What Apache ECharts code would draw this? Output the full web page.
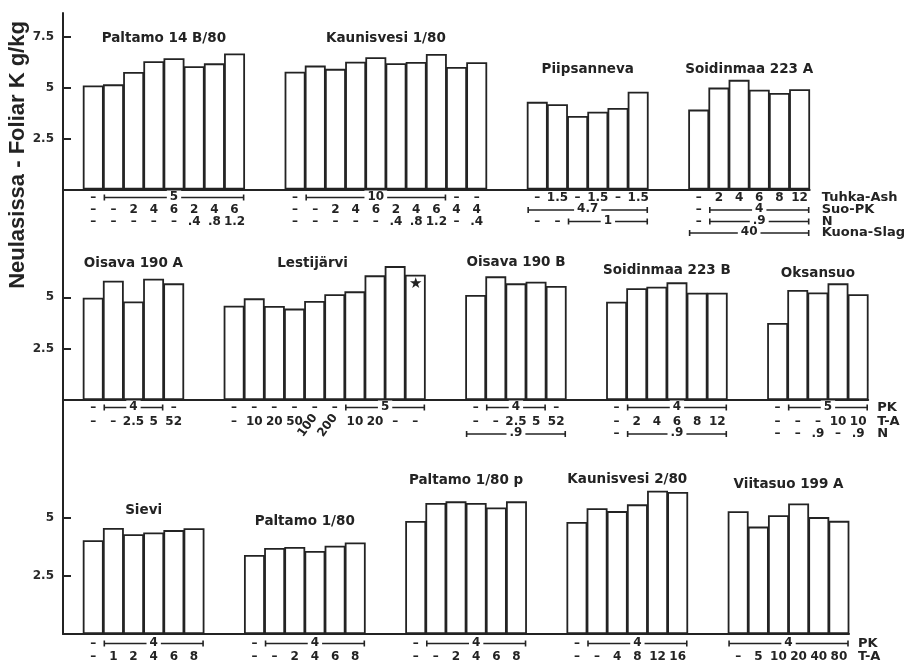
<!DOCTYPE html>
<html>
<head>
<meta charset="utf-8">
<script src="https://cdn.jsdelivr.net/npm/echarts@6/dist/echarts.min.js"></script>
<style>
  html, body { margin: 0; padding: 0; background: #fff; }
  #chart { width: 909px; height: 662px; }
</style>
</head>
<body>
<div id="chart"></div>
<script>
// Foliar potassium (g/kg) by site and fertiliser treatment, three rows of trials.

// ---- Row 1 ----
const paltamo14B   = [5.10, 5.16, 5.77, 6.29, 6.44, 6.05, 6.19, 6.67];
const kaunisvesi1  = [5.78, 6.08, 5.92, 6.27, 6.49, 6.20, 6.26, 6.65, 6.01, 6.24];
const piipsanneva  = [4.30, 4.18, 3.61, 3.82, 4.00, 4.80];
const soidinmaaA   = [3.92, 5.00, 5.38, 4.90, 4.74, 4.92];

// ---- Row 2 ----
const oisavaA      = [4.98, 5.81, 4.80, 5.91, 5.68];
const lestijarvi   = [4.59, 4.95, 4.58, 4.45, 4.82, 5.15, 5.29, 6.07, 6.52, 6.10];
const oisavaB      = [5.11, 6.02, 5.68, 5.76, 5.55];
const soidinmaaB   = [4.79, 5.44, 5.52, 5.73, 5.22, 5.22];
const oksansuo     = [3.75, 5.36, 5.24, 5.68, 5.15];

// ---- Row 3 ----
const sievi        = [4.04, 4.57, 4.30, 4.38, 4.48, 4.56];
const paltamo1     = [3.41, 3.71, 3.75, 3.58, 3.81, 3.95];
const paltamo1p    = [4.87, 5.65, 5.72, 5.65, 5.46, 5.72];
const kaunisvesi2  = [4.83, 5.42, 5.30, 5.59, 6.18, 6.12];
const viitasuo     = [5.29, 4.63, 5.12, 5.63, 5.04, 4.88];

// Site names
const row1Sites = ['Paltamo 14 B/80', 'Kaunisvesi 1/80', 'Piipsanneva', 'Soidinmaa 223 A'];
const row2Sites = ['Oisava 190 A', 'Lestijärvi', 'Oisava 190 B', 'Soidinmaa 223 B', 'Oksansuo'];
const row3Sites = ['Sievi', 'Paltamo 1/80', 'Paltamo 1/80 p', 'Kaunisvesi 2/80', 'Viitasuo 199 A'];

// Treatment rows printed under each axis (names on the right)
const row1Treatments = ['Tuhka-Ash', 'Suo-PK', 'N', 'Kuona-Slag'];
const row2Treatments = ['PK', 'T-A', 'N'];
const row3Treatments = ['PK', 'T-A'];

// Y tick labels
const row1Ticks = [2.5, 5, 7.5];
const row2Ticks = [2.5, 5];
const row3Ticks = [2.5, 5];

// Treatment doses per bar; {span, text} is a bracket covering several bars,
// {tilt} is a slanted label.
const D = '–';
const paltamo14BDoses = [
  [D, { span: 7, text: '5' }],
  [D, D, '2', '4', '6', '2', '4', '6'],
  [D, D, D, D, D, '.4', '.8', '1.2']
];
const kaunisvesi1Doses = [
  [D, { span: 7, text: '10' }, D, D],
  [D, D, '2', '4', '6', '2', '4', '6', '4', '4'],
  [D, D, D, D, D, '.4', '.8', '1.2', D, '.4']
];
const piipsannevaDoses = [
  [D, '1.5', D, '1.5', D, '1.5'],
  [{ span: 6, text: '4.7' }],
  [D, D, { span: 4, text: '1' }]
];
const soidinmaaADoses = [
  [D, '2', '4', '6', '8', '12'],
  [D, { span: 5, text: '4' }],
  [D, { span: 5, text: '.9' }],
  [{ span: 6, text: '40' }]
];
const oisavaADoses = [
  [D, { span: 3, text: '4' }, D],
  [D, D, '2.5', '5', '52']
];
const lestijarviDoses = [
  [D, D, D, D, D, D, { span: 4, text: '5' }],
  [D, '10', '20', '50', { tilt: '100' }, { tilt: '200' }, '10', '20', D, D]
];
const oisavaBDoses = [
  [D, { span: 3, text: '4' }, D],
  [D, D, '2.5', '5', '52'],
  [{ span: 5, text: '.9' }]
];
const soidinmaaBDoses = [
  [D, { span: 5, text: '4' }],
  [D, '2', '4', '6', '8', '12'],
  [D, { span: 5, text: '.9' }]
];
const oksansuoDoses = [
  [D, { span: 4, text: '5' }],
  [D, D, D, '10', '10'],
  [D, D, '.9', D, '.9']
];
const sieviDoses       = [[D, { span: 5, text: '4' }], [D, '1', '2', '4', '6', '8']];
const paltamo1Doses    = [[D, { span: 5, text: '4' }], [D, D, '2', '4', '6', '8']];
const paltamo1pDoses   = [[D, { span: 5, text: '4' }], [D, D, '2', '4', '6', '8']];
const kaunisvesi2Doses = [[D, { span: 5, text: '4' }], [D, D, '4', '8', '12', '16']];
const viitasuoDoses    = [[{ span: 6, text: '4' }], [D, '5', '10', '20', '40', '80']];

// ---------------- layout ----------------
const INK = '#232323';
const FONT = 'DejaVu Sans';

const panels = [
  {
    grid: { left: 63, top: 13, width: 746.7, height: 176.5 }, slots: 37, max: 8.66,
    ticks: row1Ticks, treatments: row1Treatments, rowOffsets: [8, 20.5, 32, 43.5], labelGap: 12,
    groups: [
      { name: row1Sites[0], values: paltamo14B,  doses: paltamo14BDoses,  start: 1,  titleAt: 7.39 },
      { name: row1Sites[1], values: kaunisvesi1, doses: kaunisvesi1Doses, start: 11, titleAt: 7.39 },
      { name: row1Sites[2], values: piipsanneva, doses: piipsannevaDoses, start: 23, titleAt: 5.90 },
      { name: row1Sites[3], values: soidinmaaA,  doses: soidinmaaADoses,  start: 31, titleAt: 5.90 }
    ]
  },
  {
    grid: { left: 63, top: 189.5, width: 805.2, height: 210.5 }, slots: 40, max: 10.25,
    ticks: row2Ticks, treatments: row2Treatments, rowOffsets: [7.5, 21.5, 34], labelGap: 9,
    groups: [
      { name: row2Sites[0], values: oisavaA,    doses: oisavaADoses,    start: 1,  titleAt: 6.66 },
      { name: row2Sites[1], values: lestijarvi, doses: lestijarviDoses, start: 8,  titleAt: 6.66, shift: -0.6, starAt: 9 },
      { name: row2Sites[2], values: oisavaB,    doses: oisavaBDoses,    start: 20, titleAt: 6.70 },
      { name: row2Sites[3], values: soidinmaaB, doses: soidinmaaBDoses, start: 27, titleAt: 6.33 },
      { name: row2Sites[4], values: oksansuo,   doses: oksansuoDoses,   start: 35, titleAt: 6.17 }
    ]
  },
  {
    grid: { left: 63, top: 400, width: 786, height: 234 }, slots: 39, max: 10.09,
    ticks: row3Ticks, treatments: row3Treatments, rowOffsets: [9.5, 23], labelGap: 9,
    groups: [
      { name: row3Sites[0], values: sievi,       doses: sieviDoses,       start: 1,  titleAt: 5.31 },
      { name: row3Sites[1], values: paltamo1,    doses: paltamo1Doses,    start: 9,  titleAt: 4.87 },
      { name: row3Sites[2], values: paltamo1p,   doses: paltamo1pDoses,   start: 17, titleAt: 6.64 },
      { name: row3Sites[3], values: kaunisvesi2, doses: kaunisvesi2Doses, start: 25, titleAt: 6.67 },
      { name: row3Sites[4], values: viitasuo,    doses: viitasuoDoses,    start: 33, titleAt: 6.45 }
    ]
  }
];

const chart = echarts.init(document.getElementById('chart'), null, { renderer: 'canvas' });

const grids = [], xAxes = [], yAxes = [], series = [];
panels.forEach((p, i) => {
  grids.push(Object.assign({ containLabel: false }, p.grid));
  const cats = Array.from({ length: p.slots }, (_, k) => String(k));
  xAxes.push({
    type: 'category', gridIndex: i, data: cats, boundaryGap: true,
    axisLine: { show: true, onZero: false, lineStyle: { color: INK, width: 2 } },
    axisTick: { show: false }, axisLabel: { show: false }, splitLine: { show: false }
  });
  yAxes.push({
    type: 'value', gridIndex: i, min: 0, max: p.max,
    axisLine: { show: true, lineStyle: { color: INK, width: 2 } },
    axisTick: { show: true, inside: true, length: 8, customValues: p.ticks, lineStyle: { color: INK, width: 2 } },
    axisLabel: {
      show: true, customValues: p.ticks, margin: 9,
      color: '#2a2a2a', fontFamily: FONT, fontWeight: 'bold', fontSize: 12,
      formatter: v => String(v)
    },
    splitLine: { show: false }
  });
  const data = new Array(p.slots).fill(null);
  p.groups.forEach(g => {
    g.values.forEach((v, k) => {
      if (g.starAt === k) {
        data[g.start + k] = {
          value: v,
          label: { show: true, position: 'insideTop', distance: 2, formatter: '★', fontSize: 15, color: INK }
        };
      } else {
        data[g.start + k] = v;
      }
    });
  });
  series.push({
    type: 'bar', xAxisIndex: i, yAxisIndex: i, data: data,
    barWidth: '104%', silent: true, animation: false,
    itemStyle: { color: '#ffffff', borderColor: INK, borderWidth: 1.8 }
  });
});

chart.setOption({
  animation: false,
  backgroundColor: '#ffffff',
  grid: grids, xAxis: xAxes, yAxis: yAxes, series: series
});

// ---- texts and treatment brackets placed through the axes ----
const graphics = [];
const txt = (text, x, y, size, extra) => Object.assign({
  type: 'text', silent: true, z: 10,
  style: Object.assign({
    text: text, x: x, y: y, align: 'center', verticalAlign: 'middle',
    fill: INK, fontFamily: FONT, fontWeight: 'bold', fontSize: size
  }, extra || {})
});
const seg = (x1, y1, x2, y2, w) => ({
  type: 'line', silent: true, z: 5,
  shape: { x1: x1, y1: y1, x2: x2, y2: y2 },
  style: { stroke: INK, lineWidth: w || 1.6 }
});

panels.forEach((p, i) => {
  const cx = k => chart.convertToPixel({ xAxisIndex: i }, k);
  const bw = cx(1) - cx(0);
  const base = chart.convertToPixel({ yAxisIndex: i }, 0);

  p.groups.forEach(g => {
    const n = g.values.length;
    const left = cx(g.start) - bw / 2;
    const right = cx(g.start + n - 1) + bw / 2;
    const ty = chart.convertToPixel({ yAxisIndex: i }, g.titleAt);
    graphics.push(txt(g.name, (left + right) / 2 + (g.shift || 0) * bw, ty, 13.5));

    g.doses.forEach((row, r) => {
      const y = base + p.rowOffsets[r];
      let k = 0;
      row.forEach(item => {
        if (typeof item === 'string') {
          graphics.push(txt(item, cx(g.start + k), y, 12));
          k += 1;
        } else if (item.span) {
          const a = cx(g.start + k) - bw / 2 + 1;
          const b = cx(g.start + k + item.span - 1) + bw / 2 - 1;
          graphics.push(seg(a, y, b, y));
          graphics.push(seg(a, y - 3, a, y + 3));
          graphics.push(seg(b, y - 3, b, y + 3));
          graphics.push(txt(item.text, (a + b) / 2, y - 1, 12, { backgroundColor: '#ffffff', padding: [0, 3] }));
          k += item.span;
        } else if (item.tilt) {
          graphics.push({
            type: 'text', silent: true, z: 10,
            x: cx(g.start + k) - 7, y: y + 4, rotation: 0.95,
            style: {
              text: item.tilt, x: 0, y: 0, align: 'center', verticalAlign: 'middle',
              fill: INK, fontFamily: FONT, fontWeight: 'bold', fontSize: 12
            }
          });
          k += 1;
        }
      });
    });
  });

  const rightEdge = cx(p.slots - 1) + bw / 2;
  p.treatments.forEach((name, r) => {
    graphics.push(txt(name, rightEdge + p.labelGap, base + p.rowOffsets[r], 13, { align: 'left' }));
  });
});

// vertical axis title
graphics.push({
  type: 'text', silent: true, x: 18, y: 155, rotation: Math.PI / 2,
  style: {
    text: 'Neulasissa - Foliar K g/kg', x: 0, y: 0, align: 'center', verticalAlign: 'middle',
    fill: INK, fontFamily: 'Liberation Sans', fontWeight: 'bold', fontSize: 22
  }
});

chart.setOption({ graphic: graphics });
</script>
</body>
</html>
